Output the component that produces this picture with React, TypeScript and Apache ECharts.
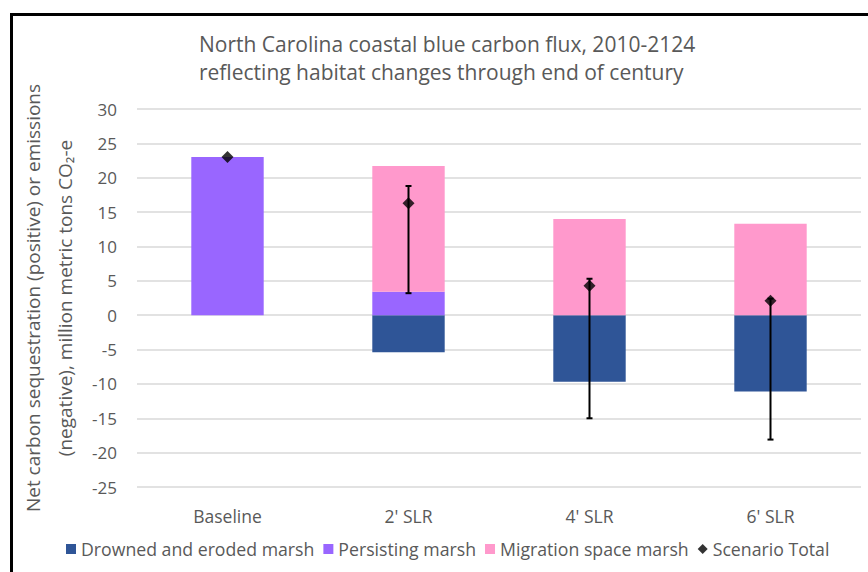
import React, { useEffect, useRef } from "react";
import * as echarts from "echarts";

const categories = ["Baseline", "2' SLR", "4' SLR", "6' SLR"];
const drowned = [null, -5.4, -9.7, -11.1];
const persisting = [23.0, 3.4, null, null];
const migration = [null, 18.3, 14.0, 13.3];
const totals = [23.0, 16.3, 4.3, 2.1];
const errLow = [null, 3.2, -15.0, -18.1];
const errHigh = [null, 18.8, 5.3, 2.4];

const FONT = "Open Sans";
const GREY = "#595959";

export default function App() {
  const ref = useRef<HTMLDivElement>(null);
  useEffect(() => {
    const chart = echarts.init(ref.current!, null, { renderer: "svg" });
    const errData = categories.map((c, i) => [i, errLow[i], errHigh[i]]).filter((d) => d[1] !== null);
    chart.setOption({
      animation: false,
      backgroundColor: "#fff",
      textStyle: { fontFamily: FONT },
      title: {
        text: "North Carolina coastal blue carbon flux, 2010-2124\nreflecting habitat changes through end of century",
        left: 194,
        top: 25,
        textAlign: "left",
        textStyle: { fontFamily: FONT, fontSize: 21, fontWeight: "normal", color: GREY, lineHeight: 28, align: "center" },
      },
      grid: { left: 137, right: 7, top: 109, bottom: 85 },
      legend: {
        bottom: 9,
        left: 61,
        itemWidth: 10,
        itemHeight: 10,
        itemGap: 9,
        textStyle: { fontFamily: FONT, fontSize: 17.7, color: GREY },
        data: [
          { name: "Drowned and eroded marsh", icon: "rect" },
          { name: "Persisting marsh", icon: "rect" },
          { name: "Migration space marsh", icon: "rect" },
          { name: "Scenario Total", icon: "diamond" },
        ],
      },
      xAxis: {
        type: "category",
        data: categories,
        axisLine: { show: false },
        axisTick: { show: false },
        axisLabel: { fontFamily: FONT, fontSize: 17.5, color: GREY, margin: 20 },
      },
      yAxis: {
        type: "value",
        min: -25,
        max: 30,
        interval: 5,
        name: "Net carbon sequestration (positive) or emissions\n(negative), million metric tons CO₂-e",
        nameLocation: "middle",
        nameRotate: 90,
        nameGap: 50,
        nameTextStyle: { fontFamily: FONT, fontSize: 19, color: GREY, lineHeight: 32 },
        axisLabel: { fontFamily: FONT, fontSize: 17, color: GREY, margin: 20 },
        splitLine: { lineStyle: { color: "#d9d9d9", width: 1.5 } },
      },
      series: [
        {
          name: "Drowned and eroded marsh",
          type: "bar",
          stack: "s",
          barWidth: "40%",
          data: drowned,
          itemStyle: { color: "#2F5597" },
        },
        {
          name: "Persisting marsh",
          type: "bar",
          stack: "s",
          data: persisting,
          itemStyle: { color: "#9966FF" },
        },
        {
          name: "Migration space marsh",
          type: "bar",
          stack: "s",
          data: migration,
          itemStyle: { color: "#FF99CC" },
        },
        {
          name: "Error",
          type: "custom",
          z: 5,
          data: errData,
          renderItem: (params: any, api: any) => {
            const x = api.value(0);
            const lo = api.coord([x, api.value(1)]);
            const hi = api.coord([x, api.value(2)]);
            const hw = 3;
            const st = { stroke: "#000", lineWidth: 2 };
            return {
              type: "group",
              children: [
                { type: "line", shape: { x1: lo[0], y1: lo[1], x2: hi[0], y2: hi[1] }, style: st },
                { type: "line", shape: { x1: lo[0] - hw, y1: lo[1], x2: lo[0] + hw, y2: lo[1] }, style: st },
                { type: "line", shape: { x1: hi[0] - hw, y1: hi[1], x2: hi[0] + hw, y2: hi[1] }, style: st },
              ],
            };
          },
        },
        {
          name: "Scenario Total",
          type: "scatter",
          symbol: "diamond",
          symbolSize: 12,
          z: 6,
          data: totals,
          itemStyle: { color: "#000" },
        },
      ],
      graphic: [
        {
          type: "rect",
          shape: { x: 11.5, y: 14.5, width: 900, height: 700 },
          style: { fill: "none", stroke: "#000", lineWidth: 3 },
          silent: true,
        },
      ],
    });
    return () => chart.dispose();
  }, []);
  return <div ref={ref} style={{ position: "fixed", left: 0, top: 0, width: 868, height: 572 }} />;
}
